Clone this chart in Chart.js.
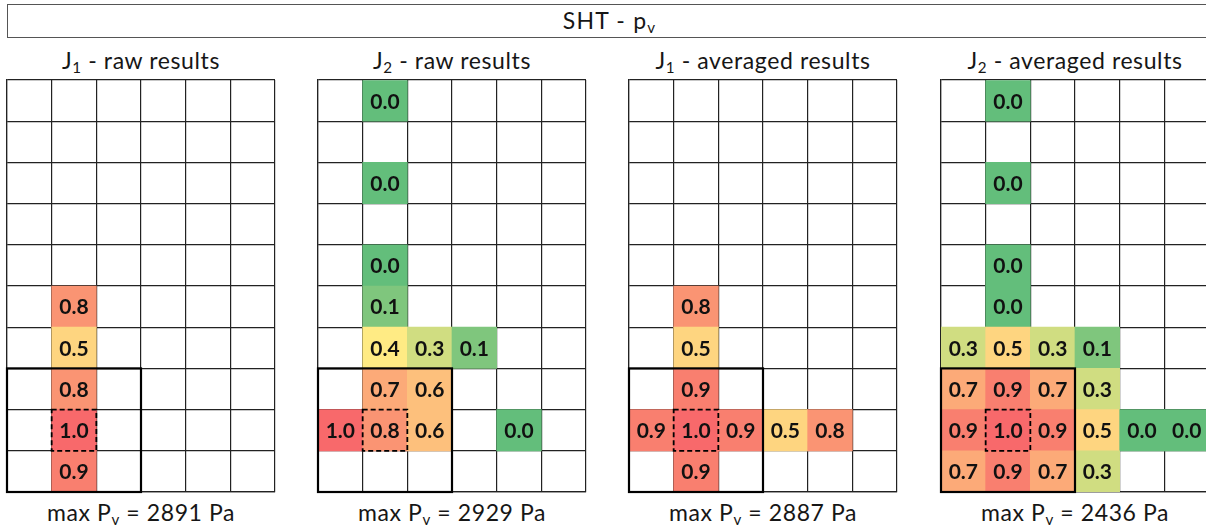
<!DOCTYPE html>
<html>
<head>
<meta charset="utf-8">
<script src="https://cdn.jsdelivr.net/npm/chart.js@4.4.0/dist/chart.umd.min.js"></script>
<style>
    body {
        margin: 0;
        width: 1206px;
        height: 531px;
        overflow: hidden;
        position: relative;
        background: #fff;
        font-family: Lato, "Open Sans", sans-serif;
        color: #161616;
    }
    sub {
        font-size: 0.66em;
        vertical-align: -0.28em;
        line-height: 0;
    }
    #header {
        position: absolute;
        left: 7px;
        top: 4px;
        width: 1203px;
        height: 32px;
        border: 1.5px solid #555;
        text-align: center;
        font-size: 23px;
        letter-spacing: 1.2px;
        line-height: 30px;
        box-sizing: content-box;
    }
    .ptitle, .caption {
        position: absolute;
        width: 268px;
        text-align: center;
        font-size: 23px;
        letter-spacing: 0.6px;
        line-height: 26px;
        white-space: nowrap;
    }
    .ptitle { top: 47px; }
    .caption { top: 499px; }
    canvas { position: absolute; top: 77px; }
</style>
</head>
<body>
<div id="header">SHT - p<sub>v</sub></div>
<div id="panels"></div>
<script>
"use strict"

const _ = null;

// pressure ratios per cell, 10 rows (top to bottom) x 6 columns, blank = not measured
const j1Raw = [
    [_, _, _, _, _, _],
    [_, _, _, _, _, _],
    [_, _, _, _, _, _],
    [_, _, _, _, _, _],
    [_, _, _, _, _, _],
    [_, 0.8, _, _, _, _],
    [_, 0.5, _, _, _, _],
    [_, 0.8, _, _, _, _],
    [_, 1.0, _, _, _, _],
    [_, 0.9, _, _, _, _]
];

const j2Raw = [
    [_, 0.0, _, _, _, _],
    [_, _, _, _, _, _],
    [_, 0.0, _, _, _, _],
    [_, _, _, _, _, _],
    [_, 0.0, _, _, _, _],
    [_, 0.1, _, _, _, _],
    [_, 0.4, 0.3, 0.1, _, _],
    [_, 0.7, 0.6, _, _, _],
    [1.0, 0.8, 0.6, _, 0.0, _],
    [_, _, _, _, _, _]
];

const j1Avg = [
    [_, _, _, _, _, _],
    [_, _, _, _, _, _],
    [_, _, _, _, _, _],
    [_, _, _, _, _, _],
    [_, _, _, _, _, _],
    [_, 0.8, _, _, _, _],
    [_, 0.5, _, _, _, _],
    [_, 0.9, _, _, _, _],
    [0.9, 1.0, 0.9, 0.5, 0.8, _],
    [_, 0.9, _, _, _, _]
];

const j2Avg = [
    [_, 0.0, _, _, _, _],
    [_, _, _, _, _, _],
    [_, 0.0, _, _, _, _],
    [_, _, _, _, _, _],
    [_, 0.0, _, _, _, _],
    [_, 0.0, _, _, _, _],
    [0.3, 0.5, 0.3, 0.1, _, _],
    [0.7, 0.9, 0.7, 0.3, _, _],
    [0.9, 1.0, 0.9, 0.5, 0.0, 0.0],
    [0.7, 0.9, 0.7, 0.3, _, _]
];

const panelGrids = [j1Raw, j2Raw, j1Avg, j2Avg];
const panelJoints = ["1", "2", "1", "2"];
const panelKinds = ["raw results", "raw results", "averaged results", "averaged results"];
const maxPv = [2891, 2929, 2887, 2436];

const NROWS = 10;
const NCOLS = 6;
const PAD = 3;
const panelLeft = [7, 318, 629, 941];

// 3x3 block around the joint, and the joint cell itself (dashed)
const jointBlock = { row: 7, col: 0, rows: 3, cols: 3 };
const jointCell = { row: 8, col: 1 };

// green - yellow - red scale, yellow sitting at 0.4
function cellColour(v) {
    const green = [99, 190, 123], yellow = [255, 235, 132], red = [248, 105, 107];
    let a, b, t;
    if (v <= 0.4) { a = green; b = yellow; t = Math.pow(v / 0.4, 1.25); }
    else { a = yellow; b = red; t = (v - 0.4) / 0.6; }
    const c = a.map((x, i) => Math.round(x + (b[i] - x) * t));
    return "rgb(" + c.join(",") + ")";
}

// value text in the middle of every filled cell
const cellLabels = {
    id: "cellLabels",
    afterDatasetsDraw(chart) {
        const ctx = chart.ctx;
        const ds = chart.data.datasets[0];
        const meta = chart.getDatasetMeta(0);
        ctx.save();
        ctx.font = "bold 21px Lato, 'Open Sans', sans-serif";
        ctx.fillStyle = "#111";
        ctx.textAlign = "center";
        ctx.textBaseline = "middle";
        meta.data.forEach((el, i) => {
            const p = el.getCenterPoint();
            ctx.fillText(ds.data[i].v.toFixed(1), p.x, p.y + 1);
        });
        ctx.restore();
    }
};

// heavy frame round the joint block, dashed frame round the joint cell
const jointFrames = {
    id: "jointFrames",
    afterDraw(chart) {
        const ctx = chart.ctx;
        const x = chart.scales.x, y = chart.scales.y;
        const rect = (c0, r0, nc, nr) => {
            const x0 = x.getPixelForValue(c0), x1 = x.getPixelForValue(c0 + nc);
            const y0 = y.getPixelForValue(r0), y1 = y.getPixelForValue(r0 + nr);
            ctx.strokeRect(x0, y0, x1 - x0, y1 - y0);
        };
        ctx.save();
        ctx.strokeStyle = "#000";
        ctx.lineWidth = 2.2;
        rect(jointBlock.col, jointBlock.row, jointBlock.cols, jointBlock.rows);
        ctx.lineWidth = 1.8;
        ctx.setLineDash([5, 3]);
        rect(jointCell.col, jointCell.row, 1, 1);
        ctx.restore();
    }
};

function axisOpts(max, reverse) {
    return {
        type: "linear",
        min: 0,
        max: max,
        reverse: reverse,
        offset: false,
        z: 1,
        ticks: { display: false, stepSize: 1 },
        grid: { color: "#222", lineWidth: 1.2, drawTicks: false, offset: false },
        border: { color: "#222", width: 1.2 }
    };
}

const holder = document.getElementById("panels");

panelGrids.forEach((grid, p) => {
    const left = panelLeft[p];

    const title = document.createElement("div");
    title.className = "ptitle";
    title.style.left = left + "px";
    title.innerHTML = "J<sub>" + panelJoints[p] + "</sub> - " + panelKinds[p];
    holder.appendChild(title);

    const cap = document.createElement("div");
    cap.className = "caption";
    cap.style.left = left + "px";
    cap.innerHTML = "max P<sub>v</sub> = " + maxPv[p] + " Pa";
    holder.appendChild(cap);

    const canvas = document.createElement("canvas");
    canvas.style.left = (left - PAD) + "px";
    canvas.style.width = (268 + 2 * PAD) + "px";
    canvas.style.height = (412 + 2 * PAD) + "px";
    canvas.width = 268 + 2 * PAD;
    canvas.height = 412 + 2 * PAD;
    holder.appendChild(canvas);

    // one floating bar per filled cell
    const cells = [];
    const colours = [];
    for (let r = 0; r < NROWS; r++) {
        for (let c = 0; c < NCOLS; c++) {
            const v = grid[r][c];
            if (v === null) continue;
            cells.push({ x: c + 0.5, y: [r, r + 1], v: v });
            colours.push(cellColour(v));
        }
    }

    new Chart(canvas.getContext("2d"), {
        type: "bar",
        data: {
            datasets: [{
                data: cells,
                backgroundColor: colours,
                borderWidth: 0,
                barPercentage: 1,
                categoryPercentage: 1
            }]
        },
        options: {
            responsive: false,
            animation: false,
            events: [],
            layout: { padding: PAD },
            plugins: {
                legend: { display: false },
                tooltip: { enabled: false },
                title: { display: false }
            },
            scales: {
                x: axisOpts(NCOLS, false),
                y: axisOpts(NROWS, true)
            }
        },
        plugins: [cellLabels, jointFrames]
    });
});
</script>
</body>
</html>
